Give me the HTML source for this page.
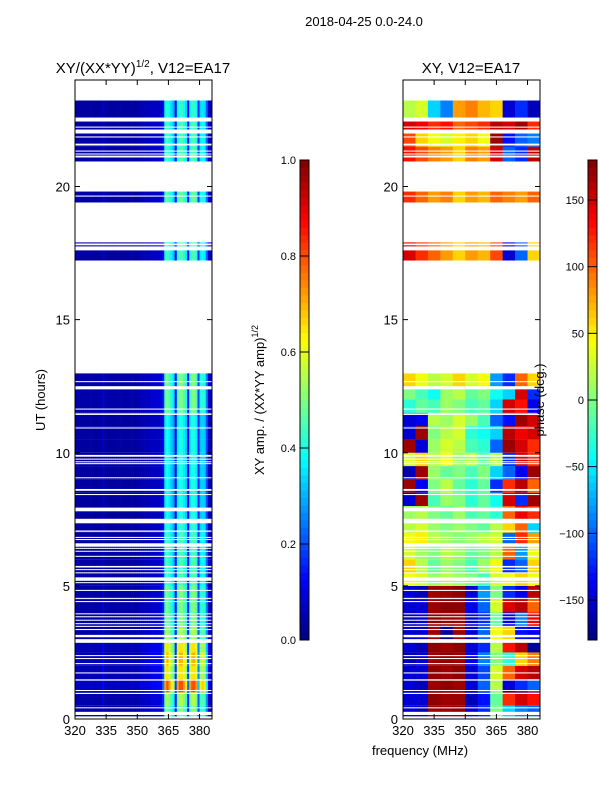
<!DOCTYPE html>
<html><head><meta charset="utf-8"><style>
body{margin:0;background:#fff;font-family:"Liberation Sans","DejaVu Sans",sans-serif;}
svg text{font-family:"Liberation Sans","DejaVu Sans",sans-serif;fill:#000;}
</style></head><body>
<svg id="fig" width="600" height="800" xmlns="http://www.w3.org/2000/svg">
<rect width="600" height="800" fill="#fff"/>
<text x="364" y="26" font-size="13" text-anchor="middle">2018-04-25 0.0-24.0</text>
<text x="143" y="73" font-size="15" text-anchor="middle">XY/(XX*YY)<tspan font-size="10" dy="-6">1/2</tspan><tspan dy="6">, V12=EA17</tspan></text>
<text x="471" y="73" font-size="15" text-anchor="middle">XY, V12=EA17</text>
<g id="ampPanel"></g>
<g id="phPanel"></g>
<g id="axes"></g>
<text transform="translate(45,400) rotate(-90)" font-size="13" text-anchor="middle">UT (hours)</text>
<text x="420" y="755" font-size="13" text-anchor="middle">frequency (MHz)</text>
<text transform="translate(264,400) rotate(-90)" font-size="13" text-anchor="middle">XY amp. / (XX*YY amp)<tspan font-size="9" dy="-6">1/2</tspan></text>
<text transform="translate(544,400) rotate(-90)" font-size="13" text-anchor="middle">phase (deg.)</text>
</svg>
<script>
// ---- data ----
const freqMHz = [];for(let f=320;f<386;f++)freqMHz.push(f);
const ampBase = [0.04,0.04,0.04,0.04,0.04,0.04,0.04,0.04,0.04,0.04,0.04,0.04,0.04,0.08,0.04,0.04,0.04,0.04,0.04,0.04,0.04,0.04,0.04,0.04,0.04,0.04,0.04,0.04,0.04,0.04,0.04,0.06,0.06,0.06,0.06,0.06,0.08,0.08,0.08,0.08,0.08,0.08,0.15,0.45,0.5,0.45,0.4,0.35,0.12,0.45,0.5,0.5,0.45,0.4,0.15,0.45,0.5,0.5,0.45,0.2,0.4,0.42,0.4,0.25,0.08,0.06];
const presentSegments = [[0.1,12.98],[17.22,17.60],[17.75,17.79],[17.86,17.90],[19.40,19.62],[19.66,19.81],[20.94,21.09],[21.16,21.20],[21.24,21.31],[21.35,21.54],[21.61,21.84],[21.88,21.99],[22.14,22.21],[22.25,22.44],[22.59,23.23]];
const gapStarts = [0.15,0.40,0.94,1.05,1.44,1.71,2.06,2.25,2.36,2.86,3.07,3.34,3.46,3.56,3.69,3.82,3.93,4.39,4.51,4.81,5.10,5.19,5.47,5.59,5.69,6.09,6.28,6.39,6.47,6.72,6.80,7.03,7.35,7.80,8.41,8.57,9.04,9.57,9.64,9.74,9.85,10.91,11.42,11.62,12.38,12.65];
const gapWidths = [0.12,0.04,0.04,0.04,0.05,0.04,0.04,0.04,0.04,0.14,0.09,0.04,0.04,0.04,0.04,0.04,0.04,0.04,0.04,0.04,0.04,0.13,0.04,0.04,0.06,0.04,0.04,0.04,0.13,0.04,0.04,0.05,0.17,0.14,0.04,0.07,0.04,0.04,0.04,0.04,0.07,0.04,0.06,0.04,0.12,0.04];
const bandEdges = [0,0.5,1,1.5,2,2.5,3,3.5,4,4.5,5,5.5,6,6.5,7,7.5,8,8.5,9,9.5,10,10.5,11,11.5,12,12.5,13,17,18,19.3,19.9,20.9,21.5,22,22.5,23.3];
const ampGain = [1.0,1.1,1.6,1.3,1.4,1.3,1.1,1.0,1.0,1.0,0.9,0.9,0.9,0.9,0.85,0.8,0.8,0.8,0.8,0.8,0.8,0.8,0.8,1.0,1.0,1.0,1,0.9,1,0.95,1,0.9,0.9,0.9,0.85];
const phaseFreqEdges = [320,326,332,338,344,350,356,362,368,374,380,386];
const phaseGrid = [
[-150,-160,170,170,175,-150,-120,0,-60,-90,-100],
[-150,-150,175,170,170,-160,-130,-10,120,150,130],
[-150,-160,170,175,170,-150,-100,20,-150,-120,-100],
[-150,-150,175,170,175,-150,-110,30,100,150,160],
[-160,-150,170,175,170,-140,-90,0,-30,60,90],
[-150,-160,175,170,175,-150,-120,20,130,160,-170],
[-150,-150,170,-170,170,-150,-100,40,60,-130,-140],
[-160,-150,175,170,170,-150,-120,-10,-140,-90,140],
[-150,-150,170,175,175,-140,-100,30,150,160,100],
[-150,-160,170,170,175,-150,-80,0,-120,-140,160],
[40,30,10,20,10,0,-20,30,40,60,40],
[60,20,-10,10,0,-20,10,40,-120,-100,60],
[30,10,0,20,10,-10,0,20,100,-80,40],
[40,50,20,10,0,10,20,30,-100,120,80],
[20,30,10,0,10,0,-10,20,60,100,-60],
[10,20,0,-10,10,-20,-10,-30,100,140,120],
[-150,170,-20,10,0,-30,-10,-40,150,-120,170],
[170,-140,0,20,-10,-30,-10,-120,120,160,100],
[-160,170,10,-10,0,-20,0,-60,-100,-140,170],
[30,60,20,40,10,20,-10,20,-120,150,120],
[170,-150,10,30,20,-20,-30,-100,170,150,120],
[-150,170,0,20,30,-30,-40,-60,160,140,150],
[-150,-140,20,10,30,10,-20,-100,-130,170,150],
[-30,-10,-20,10,0,-20,-10,-60,150,130,-140],
[0,-20,-40,10,20,-10,0,-40,-60,150,-120],
[60,40,20,30,60,30,40,-80,-120,100,60],
[0,0,0,0,0,0,0,0,0,0,0],
[150,120,100,80,60,80,70,110,-150,-100,60],
[0,0,0,0,0,0,0,0,0,0,0],
[120,100,80,90,60,80,70,100,90,80,100],
[0,0,0,0,0,0,0,0,0,0,0],
[130,110,90,80,60,90,80,150,-100,-120,160],
[110,60,40,30,50,60,40,170,-130,-100,-90],
[150,140,120,130,100,110,120,160,150,170,120],
[20,30,-60,-90,80,90,70,60,-150,-120,-160]];
const xTicks = [320,335,350,365,380];
const yTicks = [0,5,10,15,20];
const ampCbTicks = [0.0,0.2,0.4,0.6,0.8,1.0];
const phCbTicks = [-150,-100,-50,0,50,100,150];

// ---- scales ----
const NS="http://www.w3.org/2000/svg";
const panels=[{x0:75,x1:212},{x0:403,x1:540}];
const yTop=80,yBot=719,fMin=320,fMax=386,hMin=0,hMax=24;
const yS=h=>yBot-(h-hMin)/(hMax-hMin)*(yBot-yTop);
const xS=(p,f)=>p.x0+(f-fMin)/(fMax-fMin)*(p.x1-p.x0);
function jet(v){v=Math.max(0,Math.min(1,v));
 const r=Math.max(0,Math.min(1,1.5-Math.abs(4*v-3)));
 const g=Math.max(0,Math.min(1,1.5-Math.abs(4*v-2)));
 const b=Math.max(0,Math.min(1,1.5-Math.abs(4*v-1)));
 return `rgb(${Math.round(r*255)},${Math.round(g*255)},${Math.round(b*255)})`;}
function mk(tag,attrs,parent){const e=document.createElementNS(NS,tag);for(const k in attrs)e.setAttribute(k,attrs[k]);parent.appendChild(e);return e;}

// ---- time intervals ----
let edges=[];presentSegments.forEach(s=>edges.push(s[0],s[1]));
gapStarts.forEach((g,i)=>edges.push(g,g+gapWidths[i]));bandEdges.forEach(b=>edges.push(b));
edges=[...new Set(edges.map(e=>+e.toFixed(4)))].sort((a,b)=>a-b);
const intervals=[];
for(let i=0;i<edges.length-1;i++){const m=(edges[i]+edges[i+1])/2;
 if(!presentSegments.some(s=>m>=s[0]&&m<=s[1]))continue;
 if(gapStarts.some((g,j)=>m>=g&&m<=g+gapWidths[j]))continue;
 let b=bandEdges.findIndex((e,k)=>k<bandEdges.length-1&&m>=e&&m<bandEdges[k+1]);if(b<0)b=bandEdges.length-2;
 intervals.push({a:edges[i],b:edges[i+1],band:b});}

const ampG=document.getElementById('ampPanel'),phG=document.getElementById('phPanel');
intervals.forEach(iv=>{
 const y1=yS(iv.b),y2=yS(iv.a);
 freqMHz.forEach((f,fi)=>{
  const v=ampBase[fi]*ampGain[iv.band];
  const r=mk('rect',{x:xS(panels[0],f).toFixed(2),y:y1.toFixed(2),width:(xS(panels[0],f+1)-xS(panels[0],f)+0.3).toFixed(2),height:(y2-y1).toFixed(2),fill:jet(v)},ampG);
  
  
 });
 for(let k=0;k<phaseFreqEdges.length-1;k++){
  const ph=phaseGrid[iv.band][k];
  const xa=xS(panels[1],phaseFreqEdges[k]),xb=xS(panels[1],phaseFreqEdges[k+1]);
  const r=mk('rect',{x:xa.toFixed(2),y:y1.toFixed(2),width:(xb-xa+0.3).toFixed(2),height:(y2-y1).toFixed(2),fill:jet((ph+180)/360)},phG);
  
  
 }
});

// ---- axes ----
const ax=document.getElementById('axes');
panels.forEach((p,pi)=>{
 const fr=mk('rect',{x:p.x0,y:yTop,width:p.x1-p.x0,height:yBot-yTop,fill:'none',stroke:'#000','stroke-width':1},ax);
 
 
 xTicks.forEach(t=>{const x=xS(p,t);
  mk('line',{x1:x,y1:yBot,x2:x,y2:yBot-5,stroke:'#000'},ax);
  mk('line',{x1:x,y1:yTop,x2:x,y2:yTop+5,stroke:'#000'},ax);
  const tx=mk('text',{x:x,y:yBot+16,'font-size':13,'text-anchor':'middle'},ax);tx.textContent=t;
  
  });
 yTicks.forEach(t=>{const y=yS(t);
  mk('line',{x1:p.x0,y1:y,x2:p.x0+5,y2:y,stroke:'#000'},ax);
  mk('line',{x1:p.x1,y1:y,x2:p.x1-5,y2:y,stroke:'#000'},ax);
  const tx=mk('text',{x:p.x0-5,y:y+5,'font-size':13,'text-anchor':'end'},ax);tx.textContent=t;
  
  });
});

// ---- colorbars ----
const cbs=[{x:300,ticks:ampCbTicks,min:0,max:1,fmt:t=>t.toFixed(1),name:'amp-colorbar'},{x:588,ticks:phCbTicks,min:-180,max:180,fmt:t=>(t<0?'\u2212'+(-t):''+t),name:'phase-colorbar'}];
const cbT=160,cbB=640,cbW=9;
cbs.forEach(cb=>{
 const g=mk('g',{},ax);
 
 
 const n=64;
 for(let i=0;i<n;i++){const y=cbB-(i+1)*(cbB-cbT)/n;
  mk('rect',{x:cb.x,y:y.toFixed(2),width:cbW,height:((cbB-cbT)/n+0.4).toFixed(2),fill:jet((i+0.5)/n)},g);}
 mk('rect',{x:cb.x,y:cbT,width:cbW,height:cbB-cbT,fill:'none',stroke:'#000','stroke-width':1},g);
 cb.ticks.forEach(t=>{const y=cbB-(t-cb.min)/(cb.max-cb.min)*(cbB-cbT);
  mk('line',{x1:cb.x,y1:y,x2:cb.x+cbW,y2:y,stroke:'#000'},g);
  const tx=mk('text',{x:cb.x-4,y:y+4,'font-size':11,'text-anchor':'end'},g);tx.textContent=cb.fmt(t);
  
  });
});
</script>
</body></html>
